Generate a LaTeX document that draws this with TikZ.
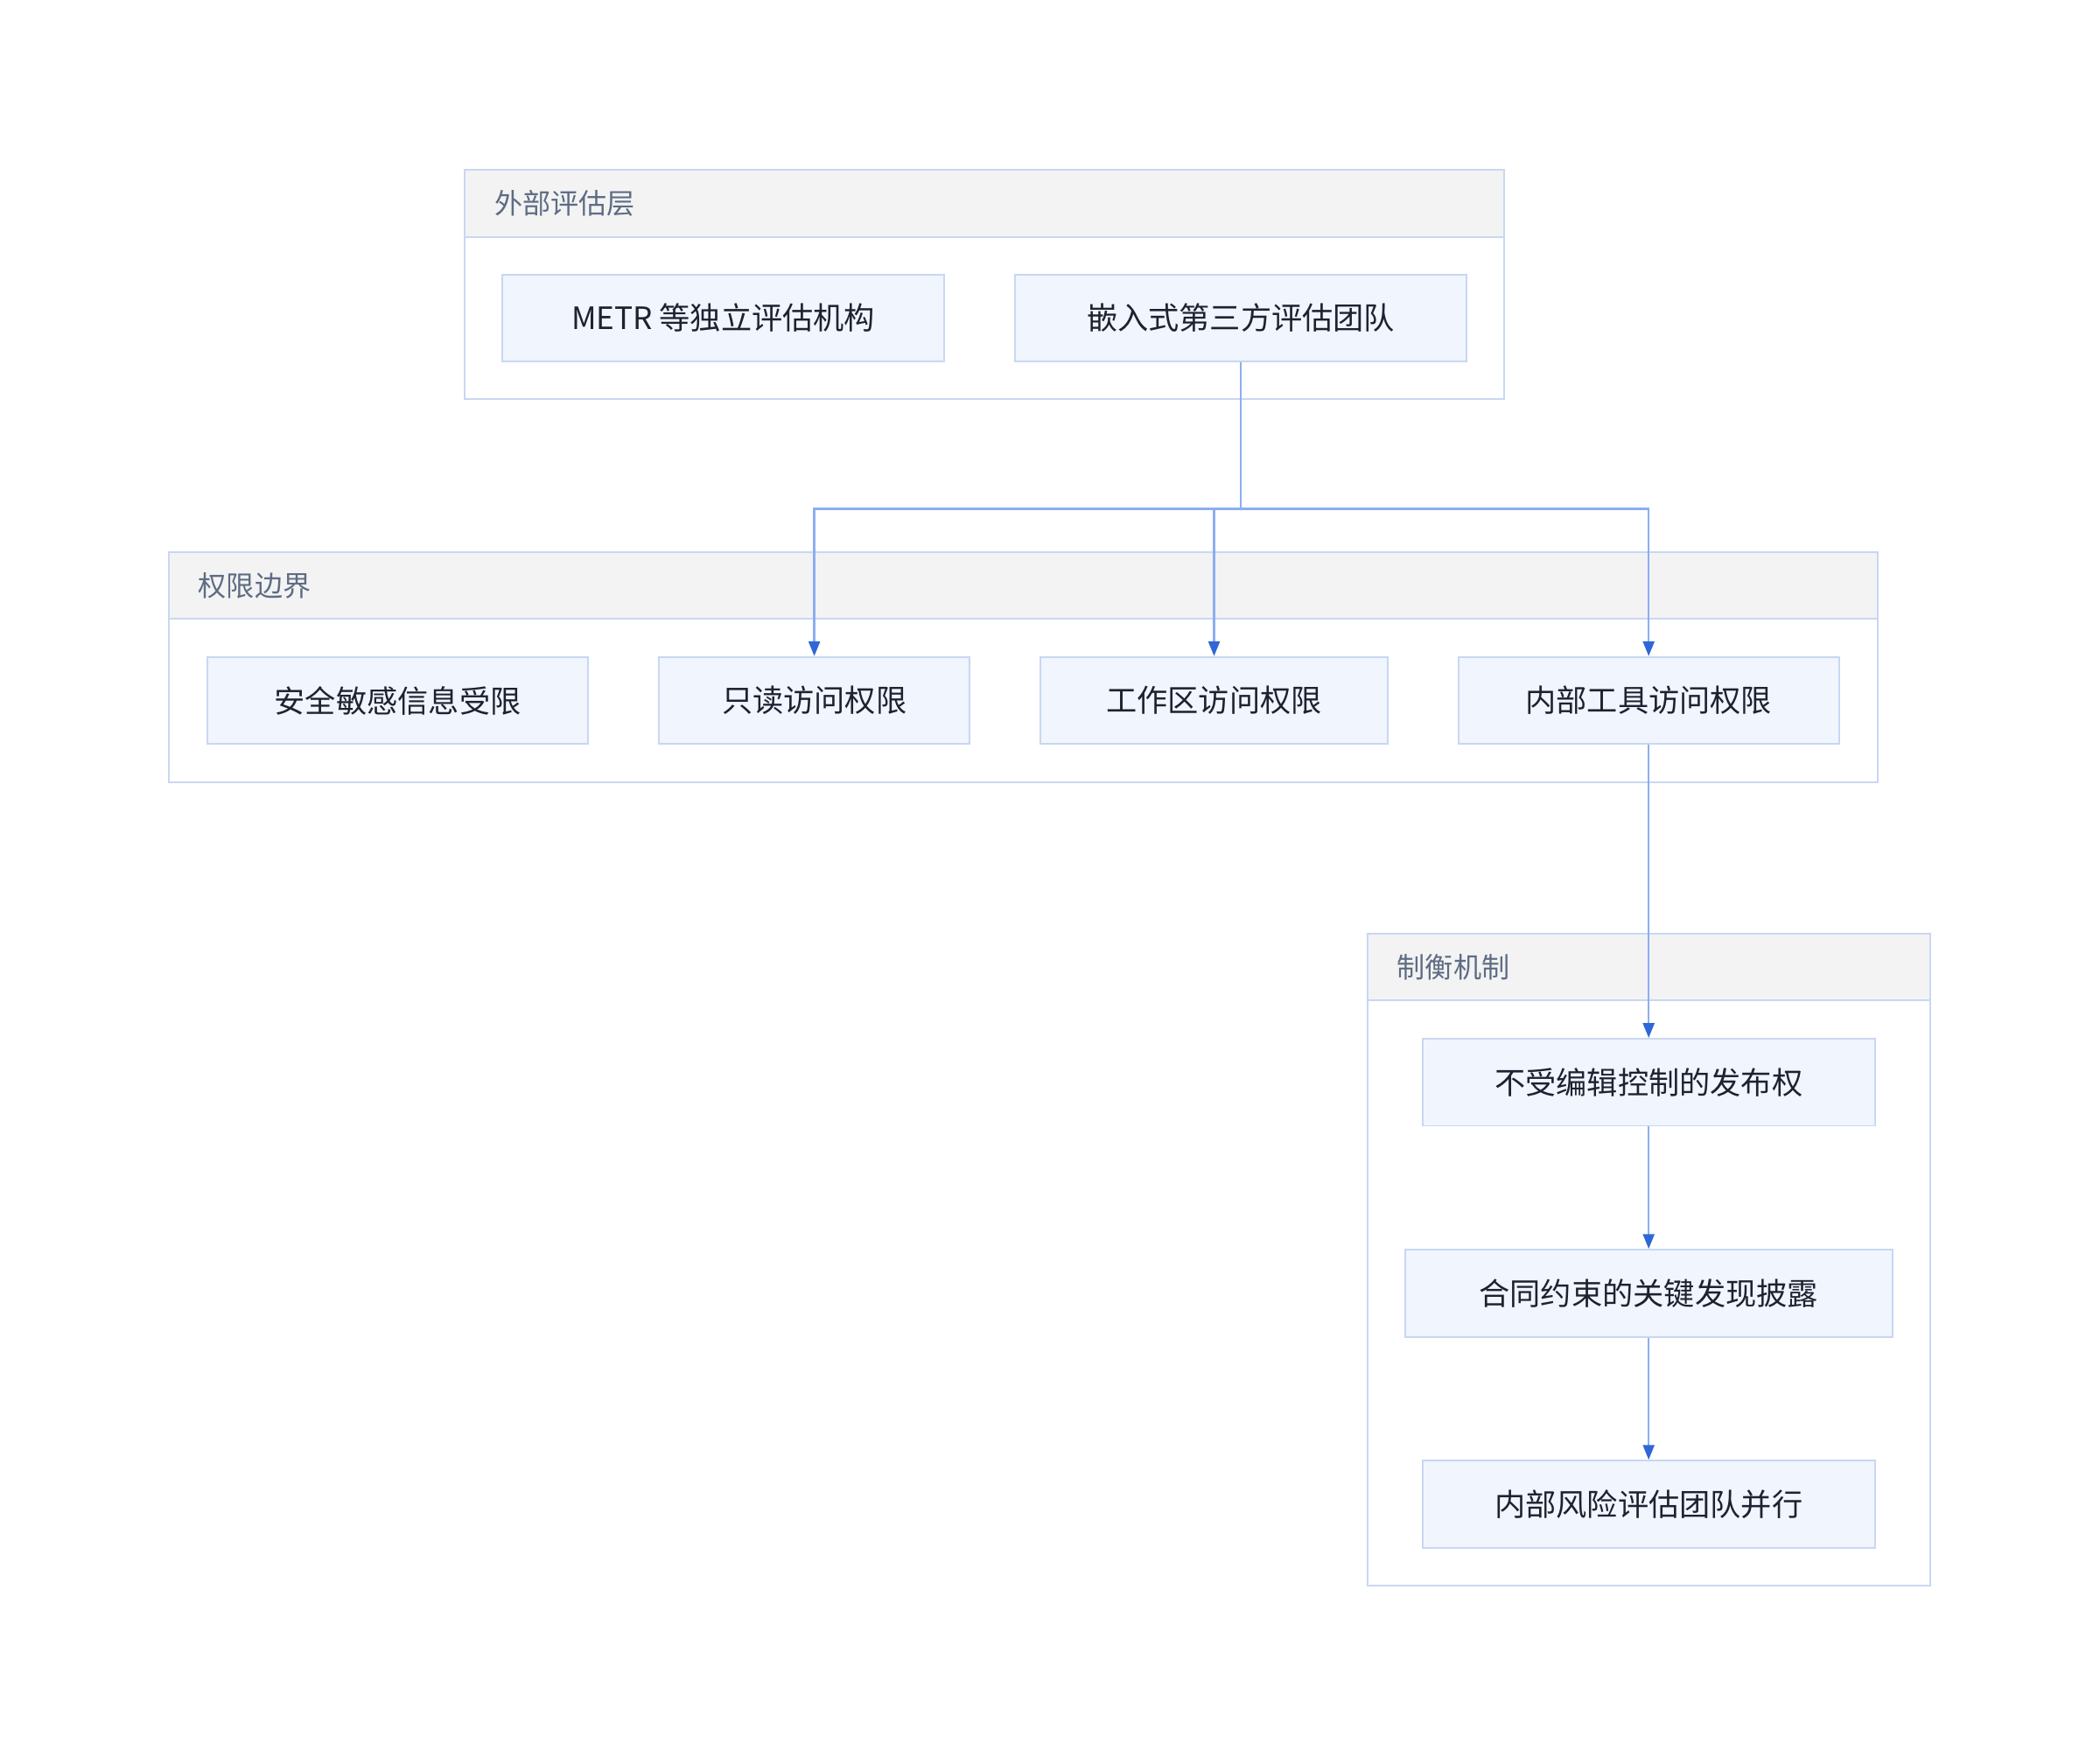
\documentclass[tikz,border=0pt]{standalone}
\usepackage{fontspec}
\setmainfont{Noto Sans CJK SC}
\usetikzlibrary{arrows.meta}
\definecolor{boxfill}{HTML}{F0F5FE}
\definecolor{boxline}{HTML}{C8D7F2}
\definecolor{headfill}{HTML}{F3F3F3}
\definecolor{headtext}{HTML}{5E6C84}
\definecolor{edgeline}{HTML}{8CAEF0}
\definecolor{edgetip}{HTML}{2F67D8}
\definecolor{nodetext}{HTML}{1E2230}
\begin{document}
\begin{tikzpicture}[x=1pt, y=-1pt]
    \tikzstyle{group} = [draw=boxline, line width=1.3pt, fill=white, inner sep=0pt]
    \tikzstyle{grouphead} = [draw=boxline, line width=1.3pt, fill=headfill, inner sep=0pt, minimum height=50pt]
    \tikzstyle{grouptitle} = [anchor=west, inner sep=0pt, text=headtext, font=\fontsize{21}{25}\selectfont]
    \tikzstyle{box} = [draw=boxline, line width=1.3pt, fill=boxfill, inner sep=0pt, minimum height=65pt,
      text=nodetext, font=\fontsize{23}{28}\selectfont]
    \tikzstyle{edge} = [draw=edgeline, line width=1.5pt, -{Triangle[length=11pt, width=8.5pt, color=edgetip]}]
    \useasboundingbox (0,0) rectangle (1568,1312);
    \node[group, minimum width=776pt, minimum height=171pt] (outer) at (735,212.5) {};
    \node[grouphead, minimum width=776pt] (outerhead) at (735,152) {};
    \node[grouptitle] (outertitle) at (369,152) {外部评估层};
    \node[box, minimum width=330pt] (metr) at (540,237.5) {METR 等独立评估机构};
    \node[box, minimum width=337pt] (team) at (926.5,237.5) {嵌入式第三方评估团队};
    \node[group, minimum width=1276pt, minimum height=172pt] (bound) at (764,498) {};
    \node[grouphead, minimum width=1276pt] (boundhead) at (764,437) {};
    \node[grouptitle] (boundtitle) at (148,437) {权限边界};
    \node[box, minimum width=284pt] (secret) at (297,523) {安全敏感信息受限};
    \node[box, minimum width=232pt] (readonly) at (608,523) {只读访问权限};
    \node[box, minimum width=259pt] (workspace) at (906.5,523) {工作区访问权限};
    \node[box, minimum width=284pt] (tools) at (1231,523) {内部工具访问权限};
    \node[group, minimum width=420pt, minimum height=487pt] (checks) at (1231,940.5) {};
    \node[grouphead, minimum width=420pt] (checkshead) at (1231,722) {};
    \node[grouptitle] (checkstitle) at (1043,722) {制衡机制};
    \node[box, minimum width=338pt] (publish) at (1231,808) {不受编辑控制的发布权};
    \node[box, minimum width=364pt] (disclose) at (1231,965.5) {合同约束的关键发现披露};
    \node[box, minimum width=338pt] (internal) at (1231,1123) {内部风险评估团队并行};
    \coordinate (split) at (926.5,380);
    \draw[edgeline, line width=1.5pt] (team.south) -- (split);
    \draw[edge] (split) -| (readonly.north);
    \draw[edge] (split) -| (workspace.north);
    \draw[edge] (split) -| (tools.north);
    \draw[edge] (tools.south) -- (publish.north);
    \draw[edge] (publish.south) -- (disclose.north);
    \draw[edge] (disclose.south) -- (internal.north);
\end{tikzpicture}
\end{document}
